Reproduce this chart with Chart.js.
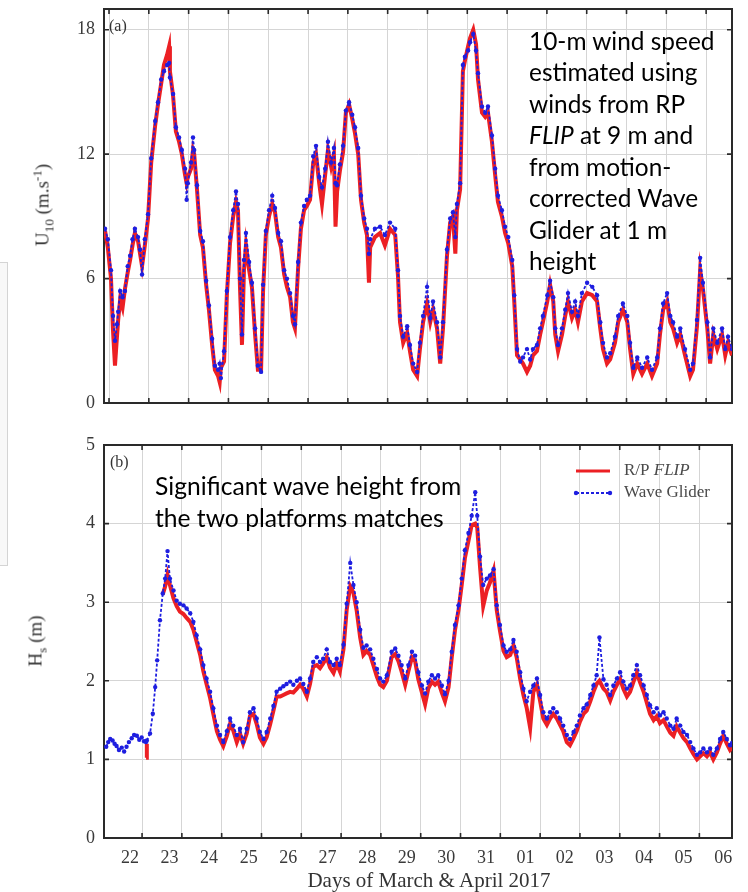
<!DOCTYPE html>
<html>
<head>
<meta charset="utf-8">
<title>U10 and Hs from R/P FLIP and Wave Glider</title>
<script src="https://cdn.jsdelivr.net/npm/chart.js@4.4.1/dist/chart.umd.min.js"></script>
<style>
  html, body { margin:0; padding:0; background:#fff; }
  #page { position:relative; width:748px; height:892px; overflow:hidden; background:#fff; }
  canvas { position:absolute; left:0; }
  #c1 { top:0; }
  #c2 { top:420px; }
  .serif { position:absolute; font-family:"Liberation Serif","DejaVu Serif",serif; color:#333; white-space:nowrap; }
  .ytitle { transform:translate(-50%,-50%) rotate(-90deg); font-size:19px; line-height:1; }
  .ytitle sub, .ytitle sup { font-size:70%; line-height:0; }
  .note { position:absolute; font-family:Lato,"Open Sans",sans-serif; color:#000; white-space:nowrap; }
  #artifact { position:absolute; left:-1px; top:262px; width:7px; height:302px; border:1px solid #d4d4d4; background:#f8f8f8; }
</style>
</head>
<body>
<div id="page">
  <div id="artifact"></div>
  <canvas id="c1" width="748" height="420"></canvas>
  <canvas id="c2" width="748" height="472"></canvas>
  <div class="serif ytitle" style="left:42px;top:205px">U<sub>10</sub> (m.s<sup>-1</sup>)</div>
  <div class="serif ytitle" style="left:35px;top:641px">H<sub>s</sub> (m)</div>
  <div class="serif" style="left:429px;top:880px;transform:translate(-50%,-50%);font-size:21px;line-height:1">Days of March &amp; April 2017</div>
  <div class="serif" style="left:109px;top:17px;font-size:16px;line-height:18px">(a)</div>
  <div class="serif" style="left:110px;top:453px;font-size:16px;line-height:18px">(b)</div>
  <div class="note" id="noteA">10-m wind speed<br>estimated using<br>winds from RP<br><i>FLIP</i> at 9 m and<br>from motion-<br>corrected Wave<br>Glider at 1 m<br>height</div>
  <div class="note" id="noteB">Significant wave height from<br>the two platforms matches</div>
</div>
<script>
// ================= DATA =================
// time in days of March 2017 (April 1 = 32)
const windTime = [
  21.90,21.97,22.05,22.10,22.15,22.20,22.23,22.28,22.34,22.40,
  22.47,22.53,22.59,22.65,22.73,22.78,22.83,22.90,22.98,23.06,
  23.16,23.23,23.31,23.38,23.46,23.51,23.53,23.61,23.68,23.76,
  23.83,23.91,23.95,23.98,24.06,24.11,24.14,24.21,24.29,24.36,
  24.44,24.51,24.59,24.66,24.74,24.78,24.81,24.89,24.96,25.04,
  25.12,25.19,25.24,25.29,25.34,25.39,25.44,25.52,25.59,25.67,
  25.74,25.82,25.87,25.94,26.02,26.10,26.17,26.25,26.32,26.40,
  26.47,26.55,26.62,26.67,26.75,26.82,26.90,26.97,27.05,27.13,
  27.20,27.28,27.35,27.43,27.50,27.58,27.65,27.69,27.73,27.80,
  27.88,27.95,28.03,28.11,28.18,28.26,28.33,28.41,28.48,28.53,
  28.56,28.68,28.81,28.93,29.06,29.19,29.26,29.31,29.39,29.49,
  29.56,29.64,29.74,29.81,29.89,29.99,30.07,30.14,30.24,30.32,
  30.39,30.49,30.57,30.64,30.70,30.74,30.82,30.89,30.94,31.02,
  31.07,31.15,31.22,31.27,31.37,31.45,31.52,31.62,31.70,31.77,
  31.87,31.95,32.03,32.13,32.18,32.25,32.33,32.40,32.50,32.58,
  32.65,32.75,32.83,32.90,33.01,33.08,33.16,33.21,33.28,33.38,
  33.46,33.53,33.63,33.71,33.78,33.88,34.01,34.14,34.26,34.34,
  34.41,34.51,34.59,34.71,34.79,34.91,35.02,35.09,35.17,35.27,
  35.39,35.52,35.64,35.77,35.84,35.92,36.02,36.10,36.17,36.27,
  36.35,36.47,36.60,36.67,36.77,36.85,36.92,37.03,37.10,37.18,
  37.28,37.40,37.48,37.55,37.65
];
// U10 (m/s) from R/P FLIP
const windFlip = [
  8.3,7.5,6.0,3.5,1.8,3.2,4.0,5.0,4.6,5.5,
  6.3,6.9,7.6,8.2,7.8,7.2,6.6,7.6,8.9,11.6,
  13.4,14.4,15.4,16.3,16.8,17.2,16.0,14.8,13.1,12.6,
  12.0,11.0,10.6,10.9,11.3,12.2,12.0,10.3,8.1,7.5,
  5.7,4.5,2.8,1.6,1.3,1.0,1.7,2.0,5.2,7.7,
  9.0,9.7,9.3,5.6,2.8,6.4,7.6,6.4,5.6,3.3,
  1.6,1.6,5.4,8.1,9.0,9.6,9.2,8.0,7.5,6.2,
  5.6,5.1,3.9,3.6,6.5,8.4,9.3,9.5,9.8,11.6,
  12.0,10.6,9.6,11.0,12.2,11.4,12.0,8.5,10.2,11.2,
  12.1,14.0,14.4,13.7,13.0,12.0,9.8,8.7,8.1,5.8,
  7.5,8.0,8.2,7.6,8.4,8.1,6.1,3.9,2.9,3.4,
  2.5,1.6,1.3,2.6,3.9,4.8,3.9,4.5,3.6,1.9,
  3.6,7.1,8.7,9.0,7.2,9.3,10.3,16.0,16.5,17.2,
  17.6,18.0,17.3,15.6,14.0,13.8,14.0,12.6,11.0,9.7,
  9.0,8.2,7.7,6.6,4.9,2.3,2.1,1.9,1.5,1.8,
  2.3,2.5,3.3,3.9,4.9,5.7,4.9,3.3,2.5,3.3,
  4.2,4.9,4.1,4.5,3.9,4.9,5.3,5.2,4.9,3.6,
  2.6,1.9,2.1,2.9,3.9,4.5,3.9,2.6,1.4,1.9,
  1.4,1.9,1.3,1.9,3.3,4.5,4.9,3.9,3.6,2.9,
  3.3,2.3,1.3,1.6,3.7,6.4,5.5,3.6,1.9,3.3,
  2.6,3.3,2.3,2.9,2.3
];
// U10 (m/s) from the motion-corrected Wave Glider
const windGlider = [
  8.4,7.9,6.4,4.2,3.0,3.8,4.4,5.4,5.1,5.4,
  6.6,7.1,7.9,8.4,8.0,7.4,6.2,7.9,9.1,11.8,
  13.6,14.5,15.6,16.0,16.3,16.4,15.7,14.9,13.3,12.8,
  12.2,11.3,9.8,10.6,11.6,12.8,12.2,10.5,8.3,7.8,
  5.9,4.7,3.1,1.8,1.6,1.9,1.2,2.5,5.4,8.0,
  9.3,10.2,9.6,6.0,3.3,6.9,8.2,6.8,5.8,3.6,
  1.8,1.5,5.7,8.3,9.3,10.0,9.4,8.2,7.8,6.4,
  6.0,5.3,4.2,3.8,6.8,8.7,9.5,9.8,10.0,11.9,
  12.4,10.9,10.4,11.3,12.6,11.6,12.3,10.6,10.5,11.5,
  12.4,14.1,14.5,13.9,13.3,12.3,10.0,8.9,8.4,7.2,
  7.9,8.4,8.5,8.1,8.7,8.4,6.4,4.2,3.2,3.7,
  2.8,1.9,1.5,2.9,4.2,5.6,4.1,4.9,3.9,2.2,
  3.9,7.4,8.9,9.2,8.0,9.6,10.6,16.3,16.7,17.0,
  17.4,17.8,17.0,15.9,14.3,14.0,14.3,12.9,11.3,10.0,
  9.3,8.5,8.0,6.9,5.2,2.6,2.0,2.2,2.6,2.1,
  2.6,2.8,3.6,4.2,5.2,5.9,5.1,3.6,2.8,3.6,
  4.5,5.3,4.4,4.9,4.2,5.3,5.8,5.6,5.2,3.9,
  2.9,2.2,2.4,3.2,4.2,4.8,4.2,2.9,1.7,2.2,
  1.7,2.2,1.6,2.2,3.6,4.8,5.3,4.2,3.9,3.2,
  3.6,2.6,1.6,1.9,4.0,7.0,5.8,3.9,2.2,3.6,
  2.9,3.6,2.6,3.2,2.6
];
const hsTime = [
  21.93,21.98,22.03,22.09,22.14,22.19,22.25,22.32,22.38,22.44,
  22.50,22.57,22.63,22.70,22.76,22.82,22.88,22.93,22.95,
  23.03,23.10,23.16,23.21,23.28,23.35,23.41,23.47,23.53,23.62,
  23.70,23.78,23.87,23.95,24.04,24.12,24.20,24.29,24.37,24.45,
  24.54,24.62,24.71,24.79,24.87,24.96,25.04,25.12,25.21,25.29,
  25.37,25.46,25.54,25.63,25.71,25.79,25.88,25.96,26.05,26.13,
  26.21,26.30,26.38,26.46,26.55,26.63,26.72,26.80,26.88,26.97,
  27.05,27.13,27.22,27.30,27.38,27.47,27.55,27.64,27.72,27.80,
  27.89,27.97,28.06,28.14,28.22,28.31,28.39,28.47,28.56,28.64,
  28.73,28.81,28.89,28.98,29.10,29.19,29.27,29.35,29.44,29.52,
  29.61,29.69,29.77,29.86,29.94,30.02,30.11,30.19,30.27,30.36,
  30.44,30.53,30.61,30.69,30.78,30.86,30.94,31.03,31.11,31.20,
  31.25,31.32,31.40,31.49,31.57,31.66,31.74,31.82,31.91,31.99,
  32.08,32.16,32.24,32.33,32.41,32.49,32.58,32.66,32.75,32.83,
  32.91,33.00,33.08,33.16,33.25,33.33,33.41,33.50,33.58,33.67,
  33.75,33.83,33.92,34.00,34.09,34.17,34.25,34.32,34.42,34.50,
  34.59,34.67,34.76,34.84,34.92,35.01,35.09,35.17,35.26,35.34,
  35.43,35.51,35.59,35.68,35.76,35.84,35.93,36.01,36.10,36.18,
  36.26,36.35,36.43,36.52,36.60,36.68,36.77,36.85,36.93,37.02,
  37.10,37.18,37.27,37.35,37.43,37.52,37.60,37.65
];
// Hs (m) from R/P FLIP (null = no record)
const hsFlip = [
  null,null,null,null,null,null,null,null,null,null,
  null,null,null,null,null,null,null,1.02,1.20,
  null,null,null,null,null,3.10,3.20,3.35,3.22,3.05,
  2.95,2.88,2.85,2.80,2.75,2.65,2.50,2.33,2.12,1.96,
  1.78,1.58,1.36,1.25,1.17,1.30,1.45,1.37,1.22,1.33,
  1.20,1.33,1.55,1.58,1.45,1.28,1.20,1.28,1.45,1.62,
  1.80,1.80,1.82,1.84,1.86,1.85,1.90,1.95,1.90,1.80,
  1.96,2.18,2.20,2.16,2.22,2.30,2.17,2.10,2.22,2.12,
  2.40,2.90,3.20,3.12,2.90,2.55,2.33,2.38,2.33,2.20,
  2.05,1.95,1.92,2.00,2.30,2.34,2.25,2.12,1.95,2.12,
  2.30,2.25,2.02,1.85,1.70,1.90,1.99,1.95,1.99,1.85,
  1.74,1.92,2.30,2.64,2.90,3.22,3.56,3.78,3.98,4.00,
  3.95,3.45,2.95,3.15,3.25,3.40,2.90,2.64,2.38,2.30,
  2.33,2.45,2.30,2.02,1.82,1.66,1.40,1.86,1.95,1.74,
  1.52,1.44,1.52,1.58,1.52,1.44,1.36,1.22,1.18,1.27,
  1.36,1.48,1.58,1.62,1.74,1.86,1.96,2.00,1.90,1.86,
  1.75,1.86,1.95,2.02,1.90,1.80,1.86,1.98,2.10,1.98,
  1.86,1.72,1.58,1.50,1.55,1.46,1.50,1.42,1.34,1.30,
  1.42,1.34,1.27,1.22,1.14,1.07,1.00,1.04,1.08,1.04,
  1.09,1.00,1.09,1.20,1.30,1.20,1.12,1.15
];
// Hs (m) from the Wave Glider
const hsGlider = [
  1.16,1.22,1.26,1.24,1.20,1.17,1.12,1.15,1.10,1.16,
  1.22,1.27,1.31,1.30,1.25,1.28,1.23,1.22,1.24,
  1.33,1.58,1.92,2.26,2.77,3.11,3.30,3.65,3.30,3.15,
  3.02,2.98,2.96,2.92,2.86,2.75,2.58,2.40,2.20,2.03,
  1.86,1.65,1.43,1.31,1.22,1.36,1.52,1.43,1.31,1.39,
  1.22,1.39,1.60,1.65,1.52,1.35,1.26,1.35,1.52,1.68,
  1.86,1.90,1.93,1.96,1.99,1.95,2.00,2.03,1.96,1.86,
  2.03,2.24,2.30,2.24,2.28,2.40,2.24,2.20,2.28,2.20,
  2.46,2.98,3.50,3.22,3.00,2.65,2.42,2.45,2.40,2.28,
  2.15,2.03,1.99,2.07,2.37,2.41,2.32,2.20,2.03,2.20,
  2.37,2.32,2.11,1.94,1.84,1.99,2.07,2.03,2.07,1.94,
  1.83,2.00,2.37,2.71,2.96,3.30,3.66,3.88,4.10,4.40,
  4.10,3.58,3.22,3.30,3.34,3.42,2.96,2.71,2.45,2.37,
  2.40,2.52,2.37,2.11,1.90,1.74,1.86,1.94,2.03,1.82,
  1.60,1.52,1.60,1.65,1.60,1.52,1.43,1.31,1.26,1.35,
  1.43,1.56,1.65,1.70,1.82,1.94,2.07,2.55,2.02,1.95,
  1.82,1.94,2.03,2.11,1.99,1.90,1.94,2.07,2.20,2.07,
  1.94,1.82,1.69,1.60,1.65,1.56,1.60,1.52,1.43,1.39,
  1.52,1.43,1.35,1.31,1.22,1.14,1.06,1.09,1.14,1.09,
  1.14,1.06,1.14,1.26,1.35,1.26,1.18,1.21
];
const seriesNames = ['R/P FLIP', 'Wave Glider'];
const windTicks = [0, 6, 12, 18];
const hsTicks = [0, 1, 2, 3, 4, 5];
const dayLabels = ['22','23','24','25','26','27','28','29','30','31','01','02','03','04','05','06'];
const dayLabelPos = [22.53,23.52,24.51,25.51,26.50,27.49,28.49,29.48,30.47,31.47,32.46,33.45,34.45,35.44,36.43,37.43];
const windGridDays = [22,23,24,25,26,27,28,29,30,31,32,33,34,35,36,37];
const hsGridDays = [22.83,23.83,24.83,25.83,26.83,27.83,28.83,29.83,30.83,31.83,32.83,33.83,34.83,35.83,36.83];

// ================= STYLE =================
const RED = 'rgb(236,32,36)';
const BLUE = 'rgb(30,30,224)';
const GRID = '#d5d5d5';
const FRAME = '#2a2a2a';
const TXT = '#3a3a3a';
const SERIF = '"Liberation Serif","DejaVu Serif",serif';
const X_MIN = 21.874, X_MAX = 37.65;

const pts = (t, v) => t.map((x, i) => ({ x: x, y: v[i] }));
const fixX = h => s => { s.height = h; s.paddingLeft = 0; s.paddingRight = 0; };
const fixY = w => s => { s.width = w; s.paddingTop = 0; s.paddingBottom = 0; };

function makeDatasets(t, f, g) {
  return [
    { label: seriesNames[1], data: pts(t, g), borderColor: BLUE, backgroundColor: BLUE,
      borderWidth: 1.8, borderDash: [3, 2], pointRadius: 2.2, pointHoverRadius: 2.2,
      pointBackgroundColor: BLUE, pointBorderWidth: 0, order: 0 },
    { label: seriesNames[0], italic: 'FLIP', data: pts(t, f), borderColor: RED, backgroundColor: RED,
      borderWidth: 4, pointRadius: 0, pointHoverRadius: 0, order: 1 }
  ];
}

function makeScales(o) {
  return {
    x: { type: 'linear', position: 'bottom', min: X_MIN, max: X_MAX,
      afterBuildTicks: o.xTicks, afterFit: fixX(o.xH),
      grid: { color: o.gridColor, lineWidth: 1, drawTicks: false },
      border: { display: true, color: FRAME, width: 2 },
      ticks: { display: o.showX, autoSkip: false, maxRotation: 0, minRotation: 0, padding: 9,
        color: TXT, font: { family: SERIF, size: 18 },
        callback: (v, i, ticks) => (ticks[i] && ticks[i].lab) || '' } },
    xT: { type: 'linear', position: 'top', min: X_MIN, max: X_MAX, afterFit: fixX(0),
      grid: { display: false }, border: { display: true, color: FRAME, width: 2 },
      ticks: { display: false } },
    y: { type: 'linear', position: 'left', min: 0, max: o.yMax,
      afterBuildTicks: s => { s.ticks = o.yTicks.map(v => ({ value: v })); },
      afterFit: fixY(104),
      grid: { color: GRID, lineWidth: 1, drawTicks: false },
      border: { display: true, color: FRAME, width: 2 },
      ticks: { padding: 9, color: TXT, font: { family: SERIF, size: 18 } } },
    yR: { type: 'linear', position: 'right', min: 0, max: o.yMax, afterFit: fixY(0),
      grid: { display: false }, border: { display: true, color: FRAME, width: 2 },
      ticks: { display: false } }
  };
}

// inward (MATLAB-style) tick marks, placed with the chart's own scales
const inwardTicks = {
  id: 'inwardTicks',
  afterDraw(chart) {
    const { ctx, chartArea: a } = chart;
    const xs = chart.scales.x, ys = chart.scales.y;
    const L = 5;
    ctx.save();
    ctx.strokeStyle = FRAME; ctx.lineWidth = 1.6;
    ctx.beginPath();
    xs.ticks.forEach(t => {
      if (t.lab) return;
      const px = xs.getPixelForValue(t.value);
      ctx.moveTo(px, a.bottom); ctx.lineTo(px, a.bottom - L);
      ctx.moveTo(px, a.top); ctx.lineTo(px, a.top + L);
    });
    ys.ticks.forEach(t => {
      const py = ys.getPixelForValue(t.value);
      ctx.moveTo(a.left, py); ctx.lineTo(a.left + L, py);
      ctx.moveTo(a.right, py); ctx.lineTo(a.right - L, py);
    });
    ctx.stroke();
    ctx.restore();
  }
};

// legend drawn inside the plot area (top right), from the datasets' own styles
const insetLegend = {
  id: 'insetLegend',
  afterDraw(chart) {
    const { ctx, chartArea: a } = chart;
    const items = [chart.data.datasets[1], chart.data.datasets[0]];
    const x0 = a.right - 156, x1 = a.right - 122, tx = a.right - 108;
    const rows = [a.top + 26, a.top + 48];
    ctx.save();
    items.forEach((ds, i) => {
      const y = rows[i];
      ctx.strokeStyle = ds.borderColor; ctx.lineWidth = Math.min(ds.borderWidth, 3);
      ctx.setLineDash(ds.borderDash || []);
      ctx.beginPath(); ctx.moveTo(x0, y); ctx.lineTo(x1, y); ctx.stroke();
      ctx.setLineDash([]);
      if (ds.pointRadius) {
        ctx.fillStyle = ds.pointBackgroundColor;
        [x0, x1].forEach(px => { ctx.beginPath(); ctx.arc(px, y, ds.pointRadius, 0, Math.PI * 2); ctx.fill(); });
      }
      ctx.fillStyle = '#4a4a4a'; ctx.textBaseline = 'middle'; ctx.textAlign = 'left';
      const label = ds.label, it = ds.italic;
      let x = tx;
      if (it && label.endsWith(it)) {
        const head = label.slice(0, label.length - it.length);
        ctx.font = '17px ' + SERIF; ctx.fillText(head, x, y); x += ctx.measureText(head).width;
        ctx.font = 'italic 17px ' + SERIF; ctx.fillText(it, x, y);
      } else {
        ctx.font = '17px ' + SERIF; ctx.fillText(label, x, y);
      }
    });
    ctx.restore();
  }
};

const common = {
  responsive: false, animation: false, events: [],
  elements: { line: { tension: 0 } },
  plugins: { legend: { display: false }, tooltip: { enabled: false } }
};

// ---- (a) wind speed ----
new Chart(document.getElementById('c1'), {
  type: 'line',
  data: { datasets: makeDatasets(windTime, windFlip, windGlider) },
  options: Object.assign({}, common, {
    layout: { padding: { top: 9, right: 16, bottom: 0, left: 0 } },
    scales: makeScales({
      xH: 17, showX: false, yMax: 19, yTicks: windTicks, gridColor: GRID,
      xTicks: s => { s.ticks = windGridDays.map(v => ({ value: v })); }
    })
  }),
  plugins: [inwardTicks]
});

// ---- (b) significant wave height ----
new Chart(document.getElementById('c2'), {
  type: 'line',
  data: { datasets: makeDatasets(hsTime, hsFlip, hsGlider) },
  options: Object.assign({}, common, {
    layout: { padding: { top: 25, right: 16, bottom: 0, left: 0 } },
    scales: makeScales({
      xH: 54, showX: true, yMax: 5, yTicks: hsTicks,
      gridColor: c => (c.tick && c.tick.isGrid) ? GRID : 'rgba(0,0,0,0)',
      xTicks: s => {
        const g = hsGridDays.map(v => ({ value: v, isGrid: true }));
        const l = dayLabelPos.map((v, i) => ({ value: v, lab: dayLabels[i] }));
        s.ticks = g.concat(l).sort((p, q) => p.value - q.value);
      }
    })
  }),
  plugins: [inwardTicks, insetLegend]
});

// ---- annotation text boxes ----
function placeNote(id, widest, target, left, baseline, lh) {
  const el = document.getElementById(id);
  const c = document.createElement('canvas').getContext('2d');
  const fam = getComputedStyle(el).fontFamily;
  c.font = '100px ' + fam;
  const size = 100 * target / c.measureText(widest).width;
  c.font = size + 'px ' + fam;
  const m = c.measureText('Hg');
  const asc = m.fontBoundingBoxAscent || size * 0.99, desc = m.fontBoundingBoxDescent || size * 0.21;
  el.style.fontSize = size + 'px';
  el.style.lineHeight = lh + 'px';
  el.style.left = left + 'px';
  el.style.top = (baseline - ((lh - asc - desc) / 2 + asc)) + 'px';
}
placeNote('noteA', '10-m wind speed', 186, 529, 50, 31.5);
placeNote('noteB', 'Significant wave height from', 307, 155, 495.5, 31.2);
</script>
</body>
</html>
